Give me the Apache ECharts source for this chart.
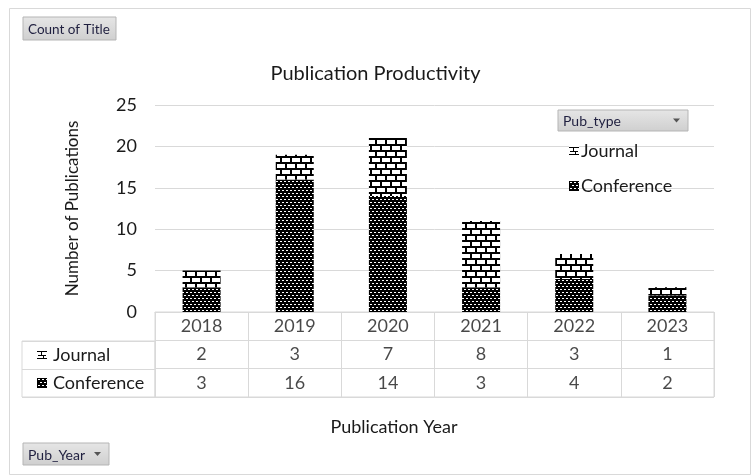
<!DOCTYPE html>
<html>
<head>
<meta charset="utf-8">
<script src="https://cdn.jsdelivr.net/npm/echarts@6/dist/echarts.min.js"></script>
<style>
  html, body { margin: 0; padding: 0; background: #fff; }
  #chart { width: 751px; height: 475px; }
</style>
</head>
<body>
<div id="chart"></div>
<script>
// data
const years = ['2018', '2019', '2020', '2021', '2022', '2023'];
const journal = [2, 3, 7, 8, 3, 1];
const conference = [3, 16, 14, 3, 4, 2];
const yTicks = [0, 5, 10, 15, 20, 25];
const rowNames = ['', 'Journal', 'Conference'];

const FONT = 'Lato';
const TXT = '#1a1a1a';
const LINE = '#d9d9d9';

// brick pattern (Journal)
function brickCanvas() {
  const c = document.createElement('canvas');
  c.width = 10; c.height = 12;
  const g = c.getContext('2d');
  g.fillStyle = '#fff'; g.fillRect(0, 0, 10, 12);
  g.fillStyle = '#000';
  g.fillRect(0, 0, 10, 2);
  g.fillRect(0, 6, 10, 2);
  g.fillRect(0, 0, 2, 6);
  g.fillRect(5, 6, 2, 6);
  return c;
}
// dense dark pattern (Conference)
function darkCanvas() {
  const c = document.createElement('canvas');
  c.width = 4; c.height = 6;
  const g = c.getContext('2d');
  g.fillStyle = '#000'; g.fillRect(0, 0, 4, 6);
  g.fillStyle = '#fff';
  g.fillRect(0, 1, 2, 1);
  g.fillRect(2, 4, 2, 1);
  return c;
}
// small icons for legend / table
function iconCanvas(kind) {
  const c = document.createElement('canvas');
  c.width = 10; c.height = 10;
  const g = c.getContext('2d');
  g.fillStyle = '#fff'; g.fillRect(0, 0, 10, 10);
  g.fillStyle = '#000';
  if (kind === 'j') {
    g.fillRect(0, 1, 10, 1);
    g.fillRect(4, 1, 1, 4);
    g.fillRect(1, 5, 8, 1);
    g.fillRect(0, 8, 10, 1);
    g.fillRect(6, 5, 1, 4);
  } else {
    g.fillRect(0, 0, 10, 10);
    g.fillStyle = '#fff';
    for (let y = 1; y < 10; y += 3) {
      for (let x = (y % 2 ? 1 : 3); x < 10; x += 4) g.fillRect(x, y, 2, 1);
    }
  }
  return c;
}

const brick = { image: brickCanvas(), repeat: 'repeat' };
const dark = { image: darkCanvas(), repeat: 'repeat' };
const jIcon = iconCanvas('j');
const cIcon = iconCanvas('c');

// table cells
const cellData = [];
years.forEach((y, i) => {
  cellData.push([i, 0, y]);
  cellData.push([i, 1, journal[i]]);
  cellData.push([i, 2, conference[i]]);
});

const chart = echarts.init(document.getElementById('chart'));

function button(x, y, w, h, text, arrow, size) {
  const els = [{
    type: 'rect',
    shape: { x: x, y: y, width: w, height: h },
    style: {
      fill: new echarts.graphic.LinearGradient(0, 0, 0, 1, [
        { offset: 0, color: '#e6e6e6' }, { offset: 1, color: '#cfcfcf' }
      ]),
      stroke: '#b5b5b5', lineWidth: 1
    }
  }, {
    type: 'text',
    x: x + 5, y: y + h / 2 + 1,
    style: { text: text, fill: '#1f1f3f', font: size + 'px ' + FONT, verticalAlign: 'middle' }
  }];
  if (arrow) {
    els.push({
      type: 'polygon',
      shape: { points: [[x + w - 15, y + h / 2 - 2], [x + w - 8, y + h / 2 - 2], [x + w - 11.5, y + h / 2 + 2]] },
      style: { fill: '#555' }
    });
  }
  return els;
}

const option = {
  animation: false,
  backgroundColor: '#fff',
  title: {
    text: 'Publication Productivity',
    left: 'center', top: 59,
    textStyle: { fontFamily: FONT, fontSize: 20, fontWeight: 'normal', color: TXT }
  },
  legend: {
    orient: 'vertical',
    left: 564, top: 137,
    itemGap: 17,
    itemWidth: 10, itemHeight: 10,
    textStyle: { fontFamily: FONT, fontSize: 18, color: TXT, padding: [0, 0, 0, -3] }
  },
  grid: [
    { left: 155, right: 37, top: 105, height: 207 },
    { left: 155, right: 37, top: 312, height: 85, show: true, borderColor: LINE, borderWidth: 1 },
    { left: 22, width: 133, top: 341, height: 56, show: true, borderColor: LINE, borderWidth: 1 }
  ],
  xAxis: [
    { gridIndex: 0, type: 'category', data: years,
      axisLine: { lineStyle: { color: LINE } }, axisTick: { show: false }, axisLabel: { show: false } },
    { gridIndex: 1, type: 'category', data: years,
      axisLine: { show: false }, axisTick: { show: false }, axisLabel: { show: false },
      splitLine: { show: true, lineStyle: { color: LINE } } },
    { gridIndex: 2, type: 'value', show: false }
  ],
  yAxis: [
    { gridIndex: 0, type: 'value', min: 0, max: 25, interval: 5,
      name: 'Number of Publications', nameLocation: 'middle', nameGap: 74,
      nameTextStyle: { fontFamily: FONT, fontSize: 17, color: TXT },
      axisLine: { show: false }, axisTick: { show: false },
      axisLabel: { fontFamily: FONT, fontSize: 18, color: TXT, margin: 18,
        formatter: v => yTicks.includes(v) ? String(v) : '' },
      splitLine: { lineStyle: { color: LINE } } },
    { gridIndex: 1, type: 'category', data: rowNames, inverse: true,
      axisLine: { show: false }, axisTick: { show: false }, axisLabel: { show: false },
      splitLine: { show: true, lineStyle: { color: LINE } } },
    { gridIndex: 2, type: 'category', data: rowNames.slice(1), inverse: true,
      axisLine: { show: false }, axisTick: { show: false },
      splitLine: { show: true, lineStyle: { color: LINE } },
      axisLabel: {
        inside: true, margin: 15,
        formatter: v => (v === 'Journal' ? '{j|}' : '{c|}') + '{g|}' + v,
        rich: {
          j: { width: 10, height: 10, backgroundColor: { image: jIcon } },
          c: { width: 10, height: 10, backgroundColor: { image: cIcon } },
          g: { width: 6 }
        },
        fontFamily: FONT, fontSize: 18, color: TXT
      } }
  ],
  series: [
    { name: 'Conference', type: 'bar', stack: 'pub', barWidth: 38, data: conference,
      xAxisIndex: 0, yAxisIndex: 0, itemStyle: { color: dark } },
    { name: 'Journal', type: 'bar', stack: 'pub', barWidth: 38, data: journal,
      xAxisIndex: 0, yAxisIndex: 0, itemStyle: { color: brick } },
    { name: 'cells', type: 'scatter', xAxisIndex: 1, yAxisIndex: 1, symbolSize: 0,
      data: cellData, silent: true,
      label: { show: true, position: 'inside', formatter: p => String(p.data[2]),
        fontFamily: FONT, fontSize: 18, color: TXT } }
  ],
  graphic: [
    { type: 'rect', shape: { x: 9.5, y: 8.5, width: 741, height: 466 },
      style: { fill: 'none', stroke: LINE, lineWidth: 1 }, z: -1 },
    { type: 'text', x: 394, y: 427,
      style: { text: 'Publication Year', fill: TXT, font: '18px ' + FONT, align: 'center', verticalAlign: 'middle' } }
  ].concat(button(23, 17, 93, 23, 'Count of Title', false, 13.5))
   .concat(button(558, 110, 130, 21, 'Pub_type', true, 14))
   .concat(button(23, 443, 86, 22, 'Pub_Year', true, 14))
};

// legend icons as images
option.legend.data = [
  { name: 'Journal', icon: 'image://' + jIcon.toDataURL() },
  { name: 'Conference', icon: 'image://' + cIcon.toDataURL() }
];

chart.setOption(option);
</script>
</body>
</html>
